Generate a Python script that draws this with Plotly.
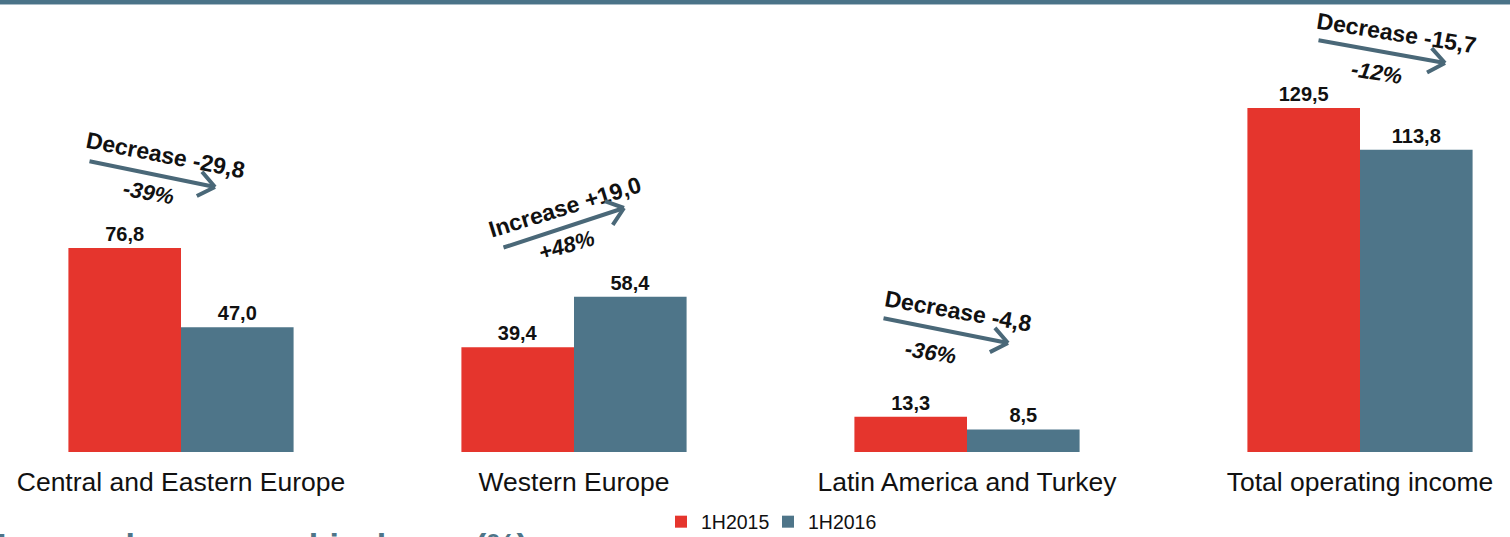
import math
import plotly.graph_objects as go

categories = ["Central and Eastern Europe", "Western Europe", "Latin America and Turkey", "Total operating income"]
values_1h2015 = [76.8, 39.4, 13.3, 129.5]
values_1h2016 = [47.0, 58.4, 8.5, 113.8]
series_names = ["1H2015", "1H2016"]
change_labels = ["Decrease -29,8", "Increase +19,0", "Decrease -4,8", "Decrease -15,7"]
change_pcts = ["-39%", "+48%", "-36%", "-12%"]

RED = "#e5352d"
SLATE = "#4e7589"
ARROW = "#4a6878"
FONT = "Liberation Sans, Arial, sans-serif"

W, H = 1510, 537
PLOT_H = 452

fig = go.Figure()
for name, vals, col, lg in ((series_names[0], values_1h2015, RED, "legend"),
                            (series_names[1], values_1h2016, SLATE, "legend2")):
    fig.add_trace(go.Bar(x=categories, y=vals, name=name, marker_color=col, legend=lg, showlegend=True,
                         marker_line_width=0, texttemplate="%{y:.1f}", textposition="outside",
                         textfont=dict(family=FONT, size=20, color="#111111", weight="bold"),
                         cliponaxis=False))


def px(x):
    return x / W


def py(y):
    return (PLOT_H - y) / PLOT_H


annotations = []
shapes = []

# change annotations (pixel layout)
text_pos = [((165, 155), 11, (148, 192), 10),
            ((565, 207), -17, (566, 245), -16),
            ((958, 311), 10, (931, 352), 9),
            ((1396, 33), 9, (1376, 73), 9)]
arrows = [((88, 161), (215, 187)),
          ((502, 248), (624, 208)),
          ((882, 318), (1008, 343)),
          ((1317, 40), (1445, 63))]

for i in range(4):
    (c1, a1, c2, a2) = text_pos[i]
    annotations.append(dict(x=px(c1[0]), y=py(c1[1]), xref="paper", yref="paper", text=change_labels[i],
                            showarrow=False, textangle=a1, xanchor="center", yanchor="middle",
                            font=dict(family=FONT, size=23, color="#111111", weight="bold")))
    annotations.append(dict(x=px(c2[0]), y=py(c2[1]), xref="paper", yref="paper", text=change_pcts[i],
                            showarrow=False, textangle=a2, xanchor="center", yanchor="middle",
                            font=dict(family=FONT, size=22, color="#111111", weight="bold", style="italic")))
    (tx, ty), (hx, hy) = arrows[i]
    annotations.append(dict(x=px(hx), y=py(hy), xref="paper", yref="paper", ax=tx - hx, ay=ty - hy,
                            axref="pixel", ayref="pixel", text="", showarrow=True, arrowhead=0,
                            arrowwidth=4, arrowcolor=ARROW, standoff=0, startstandoff=0))
    ang = math.atan2(hy - ty, hx - tx)
    for s in (1, -1):
        b = ang + math.pi + s * math.radians(38)
        L = 22
        annotations.append(dict(x=px(hx), y=py(hy), xref="paper", yref="paper",
                                ax=L * math.cos(b), ay=L * math.sin(b),
                                axref="pixel", ayref="pixel", text="", showarrow=True, arrowhead=0,
                                arrowwidth=4, arrowcolor=ARROW, standoff=0, startstandoff=0))

# clipped section title at the bottom
annotations.append(dict(x=px(530), y=py(524), xref="paper", yref="paper",
                        text="Income by geographical area (%)", showarrow=False,
                        xanchor="right", yanchor="top",
                        font=dict(family=FONT, size=34, color=SLATE, weight="bold")))

# top banner
shapes.append(dict(type="rect", xref="paper", yref="paper", x0=0, x1=1, y0=py(4), y1=py(0),
                   fillcolor="#4a7388", line_width=0, layer="above"))
shapes.append(dict(type="rect", xref="paper", yref="paper", x0=0, x1=1, y0=py(5), y1=py(4),
                   fillcolor="#a9bcc7", line_width=0, layer="above"))

legend_style = dict(orientation="h", yanchor="middle", xanchor="left", visible=True,
                    font=dict(family=FONT, size=19.5, color="#111111"), itemwidth=30,
                    bgcolor="rgba(0,0,0,0)")

y_max = PLOT_H / (344 / 129.5)
fig.update_layout(
    width=W, height=H,
    showlegend=True,
    margin=dict(l=0, r=0, t=0, b=H - PLOT_H, autoexpand=False),
    paper_bgcolor="white", plot_bgcolor="white",
    barmode="group", bargap=0.427, bargroupgap=0,
    separators=", ",
    xaxis=dict(range=[-181 / 393, 3 + 150 / 393], showgrid=False, zeroline=False, showline=False,
               ticks="", tickfont=dict(family=FONT, size=26.5, color="#111111"), ticklabelstandoff=11,
               automargin=False),
    yaxis=dict(range=[0, y_max], visible=False, showgrid=False, zeroline=False, automargin=False),
    legend=dict(x=px(661), y=py(522), **legend_style),
    legend2=dict(x=px(768), y=py(522), **legend_style),
    annotations=annotations,
    shapes=shapes,
)

fig.write_html("out.html")
